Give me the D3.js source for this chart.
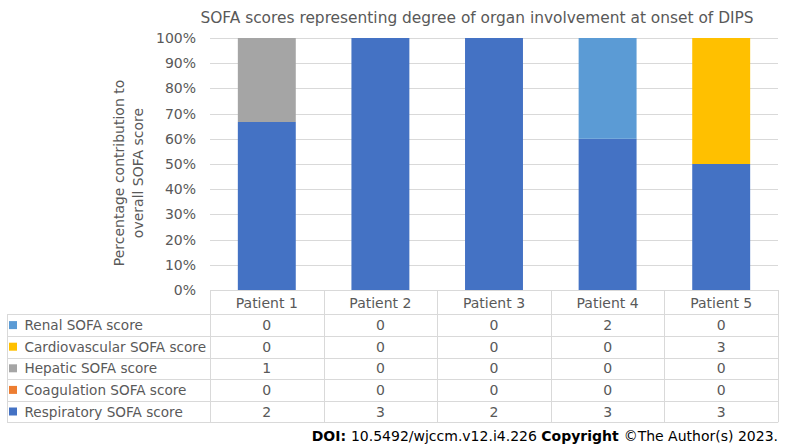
<!DOCTYPE html>
<html><head><meta charset="utf-8">
<script src="https://cdn.jsdelivr.net/npm/d3@7"></script>
<style>body{margin:0;background:#fff}svg{display:block}text{font-family:"DejaVu Sans",Verdana,sans-serif}</style>
</head><body>
<svg id="c" width="787" height="447"></svg>
<script>
const patients = ["Patient 1","Patient 2","Patient 3","Patient 4","Patient 5"];
// series listed bottom-to-top in the stack
const seriesNames = ["Respiratory SOFA score","Coagulation SOFA score","Hepatic SOFA score","Cardiovascular SOFA score","Renal SOFA score"];
const respiratory = [2,3,2,3,3];
const coagulation = [0,0,0,0,0];
const hepatic = [1,0,0,0,0];
const cardiovascular = [0,0,0,0,3];
const renal = [0,0,0,2,0];
const colors = ["#4472C4","#ED7D31","#A5A5A5","#FFC000","#5B9BD5"];
const yTicks = [0,0.1,0.2,0.3,0.4,0.5,0.6,0.7,0.8,0.9,1];
const title = "SOFA scores representing degree of organ involvement at onset of DIPS";

const seriesVals = [respiratory,coagulation,hepatic,cardiovascular,renal];
const keys = seriesNames;
const rows = patients.map((p,i)=>{const o={patient:p};keys.forEach((k,j)=>o[k]=seriesVals[j][i]);return o;});
const stack = d3.stack().keys(keys).offset(d3.stackOffsetExpand);
const stacked = stack(rows);

const svg = d3.select("#c");
const L=210,R=778,T=38,B=290;
const x = d3.scaleBand().domain(patients).range([L,R]).paddingInner(0.49).paddingOuter(0.245);
const xc = d3.scaleBand().domain(patients).range([L,R]);
const y = d3.scaleLinear().domain([0,1]).range([B,T]);
const grey="#595959";
const fs=14, tfs=13.6;

// title
svg.append("text").attr("x",477).attr("y",23).attr("text-anchor","middle").attr("font-size",15.4).attr("fill",grey).text(title);

// grid
svg.append("g").selectAll("line").data(yTicks).join("line")
  .attr("x1",L).attr("x2",R).attr("y1",d=>Math.round(y(d))+0.5).attr("y2",d=>Math.round(y(d))+0.5)
  .attr("stroke","#d9d9d9").attr("stroke-width",1);

// y axis labels
const ya = svg.append("g").attr("transform",`translate(${L-14},0)`)
  .call(d3.axisLeft(y).tickValues(yTicks).tickFormat(d3.format(".0%")).tickSize(0).tickPadding(0));
ya.select(".domain").remove();
ya.selectAll("text").attr("font-size",fs).attr("fill",grey).attr("font-family","DejaVu Sans, Verdana, sans-serif");

// y title
const yt = svg.append("text").attr("transform","rotate(-90)").attr("text-anchor","middle").attr("font-size",fs).attr("fill",grey);
yt.append("tspan").attr("x",-173).attr("y",124).text("Percentage contribution to");
yt.append("tspan").attr("x",-173).attr("y",143).text("overall SOFA score");

// bars
svg.append("g").selectAll("g").data(stacked).join("g").attr("fill",(d,i)=>colors[i])
  .selectAll("rect").data(d=>d).join("rect")
  .attr("x",d=>x(d.data.patient)).attr("width",x.bandwidth())
  .attr("y",d=>y(d[1])).attr("height",d=>Math.max(0,y(d[0])-y(d[1])));

// data table
const rowH = 21.6;
const tTop = B, headH = 24.3;
const tableOrder = [4,3,2,1,0]; // Renal first ... Respiratory last
const tBottom = tTop+headH+rowH*5;
const tg = svg.append("g");
const lc="#d9d9d9";
for(let r=0;r<=5;r++){
  const yy = Math.round(tTop+headH+rowH*r)+0.5;
  tg.append("line").attr("x1",7).attr("x2",R).attr("y1",yy).attr("y2",yy).attr("stroke",lc);
}
patients.concat(["end"]).forEach((p,i)=>{
  const xx = Math.round(L+xc.bandwidth()*i)+0.5;
  tg.append("line").attr("x1",xx).attr("x2",xx).attr("y1",tTop).attr("y2",tBottom).attr("stroke",lc);
});
tg.append("line").attr("x1",7.5).attr("x2",7.5).attr("y1",tTop+headH).attr("y2",tBottom).attr("stroke",lc);
tg.selectAll("text.h").data(patients).join("text").attr("class","h")
  .attr("x",d=>xc(d)+xc.bandwidth()/2).attr("y",tTop+headH/2+5.5).attr("text-anchor","middle")
  .attr("font-size",fs).attr("fill",grey).text(d=>d);
tableOrder.forEach((si,r)=>{
  const cy = tTop+headH+rowH*r+rowH/2;
  tg.append("rect").attr("x",9).attr("y",cy-4).attr("width",8).attr("height",8).attr("fill",colors[si]);
  tg.append("text").attr("x",24.5).attr("y",cy+5).attr("font-size",tfs).attr("fill",grey).text(seriesNames[si]);
  patients.forEach((p,i)=>{
    tg.append("text").attr("x",xc(p)+xc.bandwidth()/2).attr("y",cy+5).attr("text-anchor","middle")
      .attr("font-size",fs).attr("fill",grey).text(seriesVals[si][i]);
  });
});

// footer
const ft = svg.append("text").attr("x",778).attr("y",441).attr("text-anchor","end").attr("font-size",fs).attr("fill","#000");
ft.append("tspan").attr("font-weight","bold").text("DOI: ");
ft.append("tspan").text("10.5492/wjccm.v12.i4.226 ");
ft.append("tspan").attr("font-weight","bold").text("Copyright ");
ft.append("tspan").text("©The Author(s) 2023.");
</script>
</body></html>
